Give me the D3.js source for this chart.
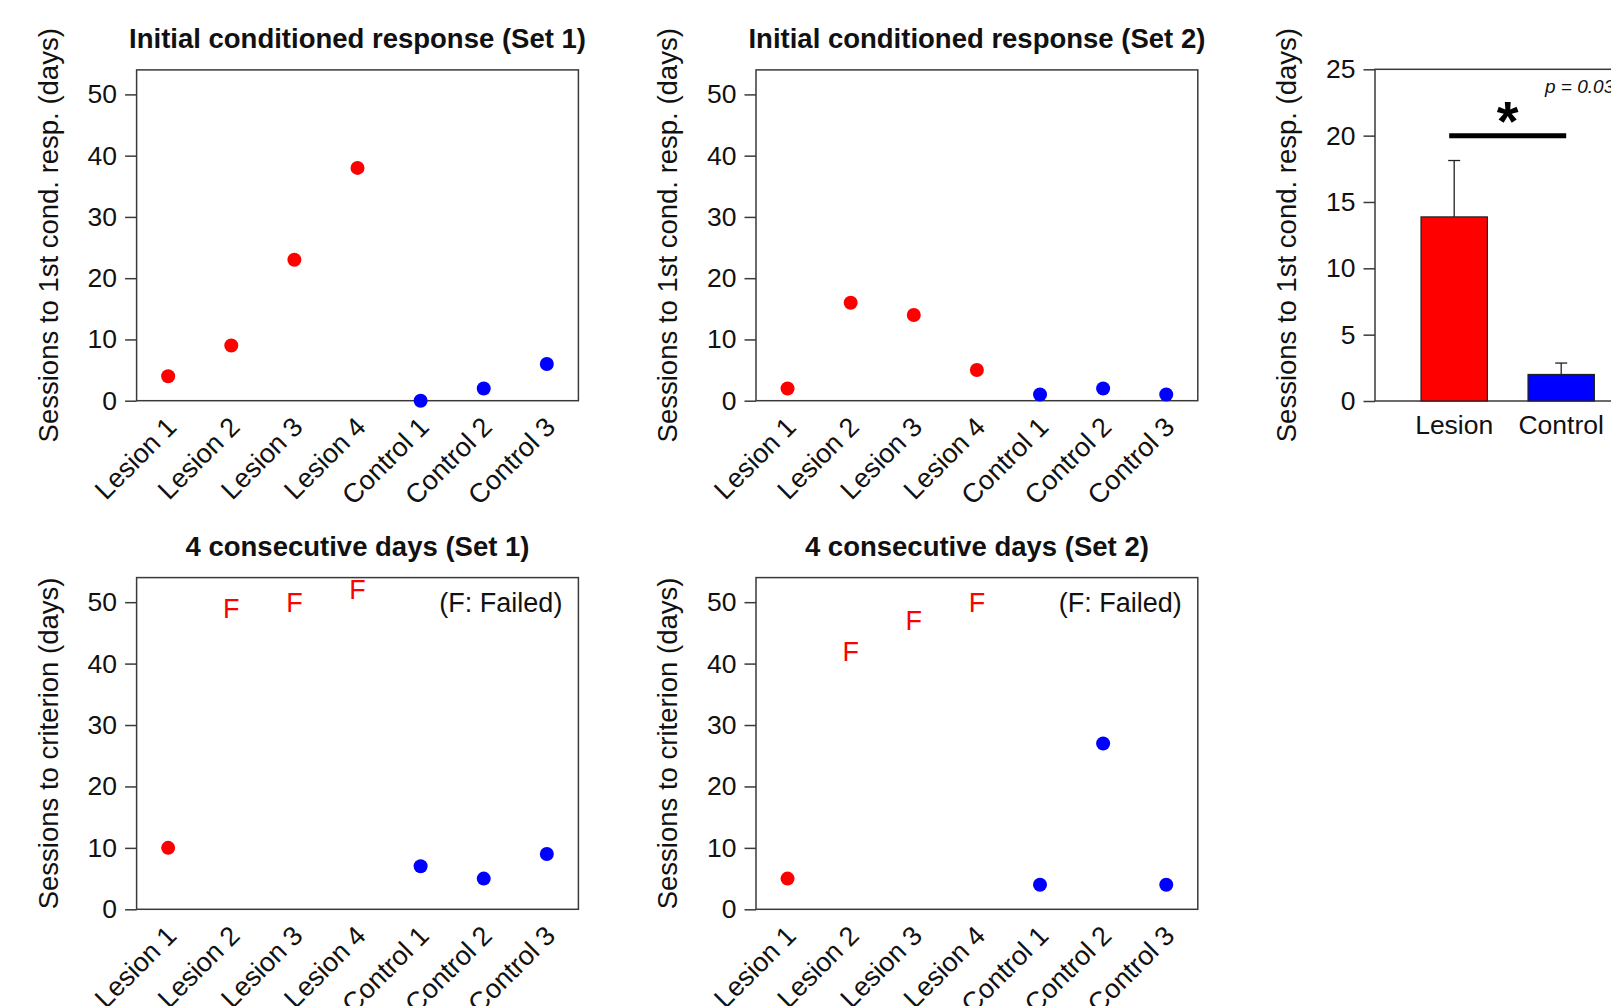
<!DOCTYPE html>
<html>
<head>
<meta charset="utf-8">
<script src="https://cdn.jsdelivr.net/npm/d3@7"></script>
<style>
  body { margin: 0; background: #fff; }
  svg { display: block; font-family: "Liberation Sans", Arial, sans-serif; }
  .tick text { font-size: 26.5px; fill: #111; }
  .tick line { stroke: #3a3a3a; stroke-width: 1.5; }
</style>
</head>
<body>
<svg id="chart" width="1611" height="1006"></svg>
<script>
// subjects, in plotting order
const subjects = ['Lesion 1', 'Lesion 2', 'Lesion 3', 'Lesion 4', 'Control 1', 'Control 2', 'Control 3'];
const subjectGroup = ['lesion', 'lesion', 'lesion', 'lesion', 'control', 'control', 'control'];

// sessions to first conditioned response
const initialSet1 = [4, 9, 23, 38, 0, 2, 6];
const initialSet2 = [2, 16, 14, 5, 1, 2, 1];

// sessions to criterion (4 consecutive days); failed animals plotted as "F"
const criterionSet1 = [10, 49, 50, 52, 7, 5, 9];
const failedSet1 = [false, true, true, true, false, false, false];
const criterionSet2 = [5, 42, 47, 50, 4, 27, 4];
const failedSet2 = [false, true, true, true, false, false, false];

const scatterTicks = [0, 10, 20, 30, 40, 50];

// summary bar chart (both sets pooled), mean + SEM
const barGroups = ['Lesion', 'Control'];
const barMeans = [13.875, 2.0];
const barSems = [4.25, 0.86];
const barTicks = [0, 5, 10, 15, 20, 25];
const sigLevel = 20;
const pText = 'p = 0.03';

const groupColour = d3.scaleOrdinal().domain(['lesion', 'control']).range(['#ff0000', '#0000ff']);

const svg = d3.select('#chart');

const scatterPanel = (parent, props) => {
  const { left, top, width, height, title, yLabel, labelX, values, failed } = props;

  const g = parent.append('g').attr('transform', `translate(${left},${top})`);

  const xScale = d3.scalePoint().domain(subjects).range([0, width]).padding(0.5);
  const yScale = d3.scaleLinear().domain([0, 54]).range([height, 0]);

  const yAxis = d3.axisLeft(yScale)
    .tickValues(scatterTicks)
    .tickSize(11.5)
    .tickSizeOuter(0)
    .tickPadding(8);

  const yAxisG = g.append('g').call(yAxis);
  yAxisG.select('.domain').remove();

  // frame
  g.append('rect')
    .attr('width', width).attr('height', height)
    .attr('fill', 'none').attr('stroke', '#3a3a3a').attr('stroke-width', 1.5);

  // title
  g.append('text')
    .attr('x', width / 2).attr('y', -21.5)
    .attr('text-anchor', 'middle')
    .style('font-size', '27.5px').style('font-weight', 'bold').attr('fill', '#111')
    .text(title);

  // y-axis title
  g.append('text')
    .attr('transform', `translate(${labelX - left},${height / 2}) rotate(-90)`)
    .attr('text-anchor', 'middle')
    .style('font-size', '27.5px').attr('fill', '#111')
    .text(yLabel);

  // rotated subject labels
  g.selectAll('.xlab').data(subjects).enter().append('text')
    .attr('class', 'xlab')
    .attr('transform', d => `translate(${xScale(d) + 10},${height + 28}) rotate(-45)`)
    .attr('text-anchor', 'end')
    .style('font-size', '27px').attr('fill', '#111')
    .text(d => d);

  const rows = subjects.map((d, i) => ({ name: d, v: values[i], grp: subjectGroup[i], f: failed ? failed[i] : false }));

  g.selectAll('.dot').data(rows.filter(d => !d.f)).enter().append('circle')
    .attr('class', 'dot')
    .attr('cx', d => xScale(d.name))
    .attr('cy', d => yScale(d.v))
    .attr('r', 7)
    .attr('fill', d => groupColour(d.grp));

  g.selectAll('.fail').data(rows.filter(d => d.f)).enter().append('text')
    .attr('class', 'fail')
    .attr('x', d => xScale(d.name))
    .attr('y', d => yScale(d.v) + 9.6)
    .attr('text-anchor', 'middle')
    .style('font-size', '27px').attr('fill', d => groupColour(d.grp))
    .text('F');

  if (failed) {
    g.append('text')
      .attr('x', width - 16).attr('y', yScale(50) + 9.5)
      .attr('text-anchor', 'end')
      .style('font-size', '27px').attr('fill', '#111')
      .text('(F: Failed)');
  }
};

scatterPanel(svg, { left: 136.6, top: 69.9, width: 441.8, height: 330.8,
  title: 'Initial conditioned response (Set 1)', yLabel: 'Sessions to 1st cond. resp. (days)',
  labelX: 57.5, values: initialSet1 });
scatterPanel(svg, { left: 756, top: 69.9, width: 441.8, height: 330.8,
  title: 'Initial conditioned response (Set 2)', yLabel: 'Sessions to 1st cond. resp. (days)',
  labelX: 677, values: initialSet2 });
scatterPanel(svg, { left: 136.6, top: 577.6, width: 441.8, height: 331.7,
  title: '4 consecutive days (Set 1)', yLabel: 'Sessions to criterion (days)',
  labelX: 57.5, values: criterionSet1, failed: failedSet1 });
scatterPanel(svg, { left: 756, top: 577.6, width: 441.8, height: 331.7,
  title: '4 consecutive days (Set 2)', yLabel: 'Sessions to criterion (days)',
  labelX: 677, values: criterionSet2, failed: failedSet2 });

// summary bar chart
const barPanel = (parent, props) => {
  const { left, top, height, labelX } = props;
  const g = parent.append('g').attr('transform', `translate(${left},${top})`);

  const xScale = d3.scaleBand().domain(barGroups).range([0, 265.4]).paddingInner(0.38).paddingOuter(0.43);
  const yScale = d3.scaleLinear().domain([0, 25]).range([height, 0]);

  const yAxisG = g.append('g').call(
    d3.axisLeft(yScale).tickValues(barTicks).tickSize(11.5).tickSizeOuter(0).tickPadding(8)
  );
  yAxisG.select('.domain').remove();

  g.append('rect')
    .attr('width', 400).attr('height', height)
    .attr('fill', 'none').attr('stroke', '#3a3a3a').attr('stroke-width', 1.5);

  g.append('text')
    .attr('transform', `translate(${labelX - left},${height / 2}) rotate(-90)`)
    .attr('text-anchor', 'middle')
    .style('font-size', '27.5px').attr('fill', '#111')
    .text('Sessions to 1st cond. resp. (days)');

  const rows = barGroups.map((d, i) => ({ name: d, mean: barMeans[i], sem: barSems[i] }));

  // error bars (upper only)
  const err = g.selectAll('.err').data(rows).enter().append('g').attr('class', 'err');
  err.append('line')
    .attr('x1', d => xScale(d.name) + xScale.bandwidth() / 2)
    .attr('x2', d => xScale(d.name) + xScale.bandwidth() / 2)
    .attr('y1', d => yScale(d.mean)).attr('y2', d => yScale(d.mean + d.sem))
    .attr('stroke', '#222').attr('stroke-width', 1.3);
  err.append('line')
    .attr('x1', d => xScale(d.name) + xScale.bandwidth() / 2 - 6)
    .attr('x2', d => xScale(d.name) + xScale.bandwidth() / 2 + 6)
    .attr('y1', d => yScale(d.mean + d.sem)).attr('y2', d => yScale(d.mean + d.sem))
    .attr('stroke', '#222').attr('stroke-width', 1.3);

  g.selectAll('.bar').data(rows).enter().append('rect')
    .attr('class', 'bar')
    .attr('x', d => xScale(d.name))
    .attr('y', d => yScale(d.mean))
    .attr('width', xScale.bandwidth())
    .attr('height', d => height - yScale(d.mean))
    .attr('fill', (d, i) => groupColour(i === 0 ? 'lesion' : 'control'))
    .attr('stroke', '#222').attr('stroke-width', 1.2);

  g.selectAll('.xlab').data(barGroups).enter().append('text')
    .attr('class', 'xlab')
    .attr('x', d => xScale(d) + xScale.bandwidth() / 2)
    .attr('y', height + 33)
    .attr('text-anchor', 'middle')
    .style('font-size', '26.5px').attr('fill', '#111')
    .text(d => d);

  // significance marker
  const c0 = xScale(barGroups[0]) + xScale.bandwidth() / 2;
  const c1 = xScale(barGroups[1]) + xScale.bandwidth() / 2;
  g.append('line')
    .attr('x1', c0 - 5).attr('x2', c1 + 5)
    .attr('y1', yScale(sigLevel)).attr('y2', yScale(sigLevel))
    .attr('stroke', '#000').attr('stroke-width', 5);
  g.append('text')
    .attr('x', (c0 + c1) / 2).attr('y', yScale(sigLevel) + 4)
    .attr('text-anchor', 'middle')
    .style('font-size', '56px').style('font-weight', 'bold').attr('fill', '#000')
    .text('*');
  g.append('text')
    .attr('x', 170).attr('y', 24)
    .style('font-size', '19px').style('font-style', 'italic').attr('fill', '#111')
    .text(pText);
};

barPanel(svg, { left: 1375, top: 69.3, height: 331.7, labelX: 1296 });
</script>
</body>
</html>
